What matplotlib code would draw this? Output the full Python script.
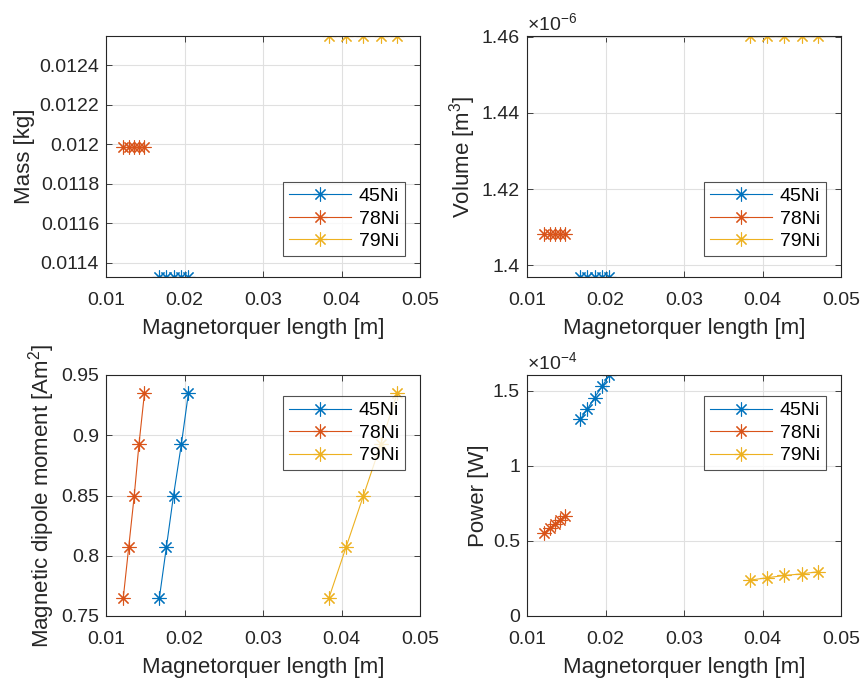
import matplotlib
matplotlib.use("Agg")
import matplotlib.pyplot as plt
import numpy as np

plt.rcParams['font.family'] = ['Liberation Sans', 'DejaVu Sans']
plt.rcParams['mathtext.fontset'] = 'custom'
plt.rcParams['mathtext.rm'] = 'Liberation Sans'

series = ['45Ni', '78Ni', '79Ni']
colors = ['#0072BD', '#D95319', '#EDB120']

length_45 = [0.0168, 0.0177, 0.0186, 0.0196, 0.0205]
length_78 = [0.0122, 0.0129, 0.0136, 0.0142, 0.0149]
length_79 = [0.0384, 0.0406, 0.0428, 0.0450, 0.0471]

mass_45 = [0.011329] * 5
mass_78 = [0.011985] * 5
mass_79 = [0.012547] * 5

volume_45 = [1.3969e-6] * 5
volume_78 = [1.4082e-6] * 5
volume_79 = [1.4601e-6] * 5

dipole_45 = [0.765, 0.8075, 0.85, 0.8925, 0.935]
dipole_78 = [0.765, 0.8075, 0.85, 0.8925, 0.935]
dipole_79 = [0.765, 0.8075, 0.85, 0.8925, 0.935]

power_45 = [1.311e-4, 1.380e-4, 1.455e-4, 1.533e-4, 1.606e-4]
power_78 = [0.554e-4, 0.587e-4, 0.616e-4, 0.642e-4, 0.669e-4]
power_79 = [0.239e-4, 0.255e-4, 0.270e-4, 0.281e-4, 0.295e-4]

lengths = [length_45, length_78, length_79]
panels = [
    ([mass_45, mass_78, mass_79], 'Mass [kg]'),
    ([volume_45, volume_78, volume_79], 'Volume [m$^3$]'),
    ([dipole_45, dipole_78, dipole_79], 'Magnetic dipole moment [Am$^2$]'),
    ([power_45, power_78, power_79], 'Power [W]'),
]

W, H = 865, 684
fig = plt.figure(figsize=(W / 100, H / 100), dpi=100)

boxes = [(106, 36, 420, 277), (527, 36, 841, 277),
         (106, 375, 420, 616), (527, 375, 841, 616)]

tick_fs = 14
label_fs = 16
marker = (8, 2, 0)
edge = '#262626'

axes = []
for (x0, y0, x1, y1), (vals, ylabel) in zip(boxes, panels):
    ax = fig.add_axes([x0 / W, 1 - y1 / H, (x1 - x0) / W, (y1 - y0) / H])
    for xs, ys, name, c in zip(lengths, vals, series, colors):
        ax.plot(xs, ys, color=c, lw=0.8, marker=marker, ms=10, mew=0.8, label=name)
    ax.set_xlim(0.01, 0.05)
    ax.set_xticks([0.01, 0.02, 0.03, 0.04, 0.05])
    ax.set_xticklabels(['0.01', '0.02', '0.03', '0.04', '0.05'])
    ax.grid(True, color='#e0e0e0', lw=0.8)
    ax.set_axisbelow(True)
    for s in ax.spines.values():
        s.set_color(edge)
        s.set_linewidth(0.8)
    ax.tick_params(direction='in', length=4, width=0.6, colors=edge,
                   labelsize=tick_fs, labelcolor='#262626', top=True, right=True, pad=5)
    ax.tick_params(axis='x', pad=10.5)
    ax.set_xlabel('Magnetorquer length [m]', fontsize=label_fs, color='#262626', labelpad=6.5)
    ax.set_ylabel(ylabel, fontsize=label_fs, color='#262626', labelpad=3)
    axes.append(ax)

# Mass
ax = axes[0]
ax.set_ylim(0.011329, 0.012547)
mt = [0.0114, 0.0116, 0.0118, 0.012, 0.0122, 0.0124]
ax.set_yticks(mt)
ax.set_yticklabels(['0.0114', '0.0116', '0.0118', '0.012', '0.0122', '0.0124'])

# Volume
ax = axes[1]
ax.set_ylim(1.39694e-6, 1.4602e-6)
vt = [1.40e-6, 1.42e-6, 1.44e-6, 1.46e-6]
ax.set_yticks(vt)
ax.set_yticklabels(['1.4', '1.42', '1.44', '1.46'])
ax.text(0.0, 1.005, r'$\times$10$^{-6}$', transform=ax.transAxes, fontsize=14,
        color='#262626', ha='left', va='bottom')

# Dipole
ax = axes[2]
ax.set_ylim(0.75, 0.95)
dt = [0.75, 0.8, 0.85, 0.9, 0.95]
ax.set_yticks(dt)
ax.set_yticklabels(['0.75', '0.8', '0.85', '0.9', '0.95'])

# Power
ax = axes[3]
ax.set_ylim(0, 1.606e-4)
pt = [0, 0.5e-4, 1.0e-4, 1.5e-4]
ax.set_yticks(pt)
ax.set_yticklabels(['0', '0.5', '1', '1.5'])
ax.text(0.0, 1.005, r'$\times$10$^{-4}$', transform=ax.transAxes, fontsize=14,
        color='#262626', ha='left', va='bottom')

legend_locs = [(0.952, 0.087, 'lower right'), (0.952, 0.087, 'lower right'),
               (0.952, 0.913, 'upper right'), (0.952, 0.913, 'upper right')]
for ax, (lx, ly, loc) in zip(axes, legend_locs):
    leg = ax.legend(loc=loc, bbox_to_anchor=(lx, ly), fontsize=tick_fs,
                    frameon=True, fancybox=False, edgecolor=edge,
                    handlelength=3.2, borderpad=0.3, labelspacing=0.25,
                    handletextpad=0.4, borderaxespad=0)
    leg.get_frame().set_linewidth(0.8)

fig.savefig('out.png', dpi=100, facecolor='white')
